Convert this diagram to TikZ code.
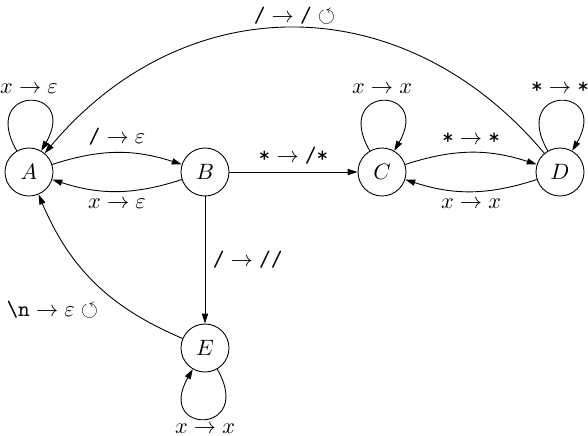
\documentclass[tikz,border=0pt]{standalone}
\usepackage{amssymb}
\usepackage{tikz}
\usetikzlibrary{arrows.meta}

\begin{document}
\begin{tikzpicture}[
    x=0.45pt, y=0.45pt,
    stnode/.style={draw, circle, minimum size=21.6pt, inner sep=0pt},
    trans/.style={-{Triangle[length=4.5pt,width=2.8pt]}},
    selfloop/.style={trans, looseness=8},
]

% ── Frame ───────────────────────────────────────────────────────
\useasboundingbox (0,0) rectangle (588,435);

% ── States ──────────────────────────────────────────────────────
\node[stnode] (A) at (29,263) {$A$};
\node[stnode] (B) at (205,263) {$B$};
\node[stnode] (C) at (382,263) {$C$};
\node[stnode] (D) at (560,263) {$D$};
\node[stnode] (E) at (205,87) {$E$};

% ── Self loops ──────────────────────────────────────────────────
\draw[selfloop] (A) to[out=120, in=60]
  node[above] (lA) {$x\to\varepsilon$} (A);
\draw[selfloop] (C) to[out=120, in=60]
  node[above] (lC) {$x\to x$} (C);
\draw[selfloop] (D) to[out=120, in=60]
  node[above] (lD) {$\texttt{*}\to\texttt{*}$} (D);
\draw[selfloop] (E) to[out=-60, in=-120]
  node[below, inner sep=2pt] (lE) {$x\to x$} (E);

% ── A <-> B ─────────────────────────────────────────────────────
\draw[trans] (A) to[bend left=18]
  node[above] (lAB) {$\texttt{/}\to\varepsilon$} (B);
\draw[trans] (B) to[bend left=18]
  node[below] (lBA) {$x\to\varepsilon$} (A);

% ── B -> C, B -> E ──────────────────────────────────────────────
\draw[trans] (B) -- node[above] (lBC) {$\texttt{*}\to\texttt{/*}$} (C);
\draw[trans] (B) -- node[right] (lBE) {$\texttt{/}\to\texttt{//}$} (E);

% ── C <-> D ─────────────────────────────────────────────────────
\draw[trans] (C) to[bend left=18]
  node[above] (lCD) {$\texttt{*}\to\texttt{*}$} (D);
\draw[trans] (D) to[bend left=18]
  node[below] (lDC) {$x\to x$} (C);

% ── Back to A ───────────────────────────────────────────────────
\draw[trans] (D) to[out=130, in=50, looseness=1.12]
  node[above, inner sep=1.5pt] (lDA) {$\texttt{/}\to\texttt{/}\circlearrowleft$} (A);
\draw[trans] (E) to[bend left=22]
  node[pos=0.42, below left] (lEA) {$\texttt{\textbackslash n}\to\varepsilon\circlearrowleft$} (A);

\end{tikzpicture}
\end{document}
